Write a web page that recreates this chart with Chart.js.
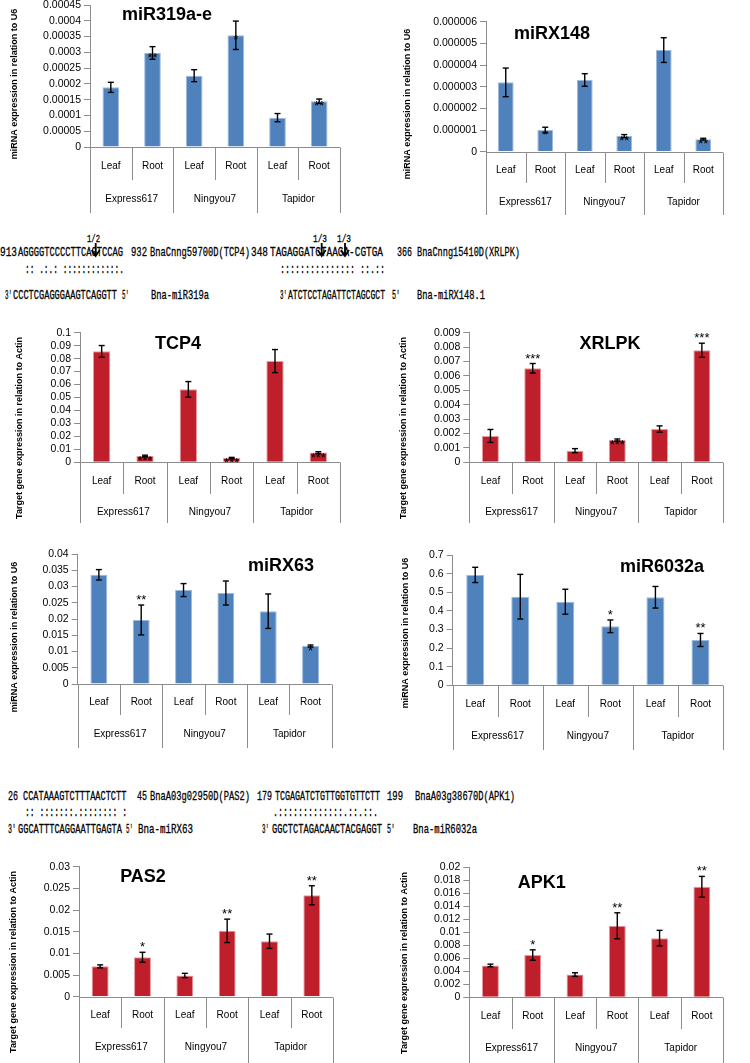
<!DOCTYPE html>
<html><head><meta charset="utf-8">
<script src="https://cdn.jsdelivr.net/npm/chart.js"></script>
<style>
body{margin:0;width:750px;height:1063px;position:relative;overflow:hidden;background:#fff}
canvas{position:absolute}
.seq{position:absolute;font-family:'Liberation Mono','Courier New',monospace;white-space:pre;transform-origin:0 50%;color:#000;-webkit-text-stroke:0.3px #000}
svg{position:absolute;left:0;top:0}
</style></head>
<body>
<svg id="arrows" width="750" height="1063"></svg>
<script>
const categories = ['Leaf','Root','Leaf','Root','Leaf','Root'];
const cultivars = ['Express617','Ningyou7','Tapidor'];

const miR319Values = [0.000189, 0.000298, 0.000226, 0.000354, 0.000093, 0.000145];
const miR319Errors = [0.000016, 0.000020, 0.000019, 0.000045, 0.000013, 0.000007];
const miR319Stars  = ['', '**', '', '*', '', '**'];

const miRX148Values = [0.0000032, 0.0000010, 0.00000331, 0.00000072, 0.00000469, 0.00000058];
const miRX148Errors = [0.00000066, 0.00000013, 0.00000029, 0.00000007, 0.00000057, 0.00000004];
const miRX148Stars  = ['', '*', '', '**', '', '**'];

const tcp4Values = [0.0856, 0.0049, 0.0563, 0.0033, 0.0781, 0.0075];
const tcp4Errors = [0.0045, 0.0006, 0.0060, 0.0005, 0.0089, 0.0007];
const tcp4Stars  = ['', '***', '', '***', '', '***'];

const xrlpkValues = [0.00183, 0.00653, 0.00081, 0.00155, 0.00231, 0.00778];
const xrlpkErrors = [0.00045, 0.00033, 0.00014, 0.00007, 0.00022, 0.00049];
const xrlpkStars  = ['', '***', '', '***', '', '***'];

const miRX63Values = [0.0336, 0.0197, 0.0289, 0.0280, 0.0224, 0.0117];
const miRX63Errors = [0.0016, 0.0046, 0.0020, 0.0037, 0.0053, 0.0003];
const miRX63Stars  = ['', '**', '', '', '', '*'];

const miR6032Values = [0.593, 0.476, 0.449, 0.317, 0.473, 0.2435];
const miR6032Errors = [0.041, 0.120, 0.067, 0.034, 0.058, 0.035];
const miR6032Stars  = ['', '', '', '*', '', '**'];

const pas2Values = [0.0070, 0.0091, 0.0049, 0.0152, 0.0128, 0.0234];
const pas2Errors = [0.00035, 0.00115, 0.0005, 0.0027, 0.00165, 0.0022];
const pas2Stars  = ['', '*', '', '**', '', '**'];

const apk1Values = [0.0049, 0.0065, 0.0035, 0.0110, 0.0091, 0.0170];
const apk1Errors = [0.0002, 0.0008, 0.00028, 0.0020, 0.0012, 0.0016];
const apk1Stars  = ['', '*', '', '**', '', '**'];

const yTitleMiR = 'miRNA expression in relation to U6';
const yTitleTarget = 'Target gene expression in relation to Actin';

const BLUE = '#4F81BD', BLUE_EDGE = '#9DB9DD';
const RED = '#BF1F2A', RED_EDGE = '#E49AA0';

function fmt(v){ return String(parseFloat(Number(v).toPrecision(6))); }

function makeChart(spec, values, errors, stars){
  const cx = spec.L < 375 ? 0 : 375;
  const cy = Math.floor(spec.T - 12);
  const W = 375;
  const H = Math.ceil(spec.longSep + 4 - cy);
  const cv = document.createElement('canvas');
  cv.width = W; cv.height = H;
  cv.style.left = cx + 'px'; cv.style.top = cy + 'px';
  cv.style.width = W + 'px'; cv.style.height = H + 'px';
  document.body.appendChild(cv);
  const yWidth = spec.L - cx;
  const decor = {
    id: 'decor',
    afterDraw(chart){
      const ctx = chart.ctx, xs = chart.scales.x, ys = chart.scales.y, a = chart.chartArea;
      const ln = (x1,y1,x2,y2)=>{ctx.beginPath();ctx.moveTo(x1,y1);ctx.lineTo(x2,y2);ctx.stroke();};
      ctx.save();
      ctx.strokeStyle = '#8c8c8c'; ctx.lineWidth = 1;
      const B = Math.round(ys.getPixelForValue(0)) + 0.5;
      ln(a.left, B, a.right, B);
      for (let i = 0; i <= categories.length; i++){
        const x = Math.round(xs.getPixelForValue(i - 0.5)) + 0.5;
        const yEnd = (i % 2 === 0 ? spec.longSep : spec.shortSep) - cy;
        ln(x, B, x, yEnd);
      }
      ctx.fillStyle = '#000';
      ctx.textAlign = 'center'; ctx.textBaseline = 'middle';
      ctx.font = '10px "Liberation Sans"';
      categories.forEach((c,i)=>ctx.fillText(c, xs.getPixelForValue(i), spec.leafY - cy));
      cultivars.forEach((g,j)=>ctx.fillText(g, xs.getPixelForValue(2*j + 0.5), spec.groupY - cy));
      // error bars
      ctx.strokeStyle = '#000'; ctx.lineWidth = 1.4;
      values.forEach((v,i)=>{
        const x = xs.getPixelForValue(i);
        const yt = ys.getPixelForValue(v + errors[i]);
        const yb = ys.getPixelForValue(v - errors[i]);
        ln(x, yt, x, yb); ln(x-3, yt, x+3, yt); ln(x-3, yb, x+3, yb);
      });
      // significance
      ctx.font = '13px "Liberation Sans"'; ctx.textBaseline = 'alphabetic'; ctx.fillStyle = '#000';
      stars.forEach((s,i)=>{
        if (!s) return;
        const x = xs.getPixelForValue(i);
        const onBar = spec.starsOnBar || errors[i] / spec.max < 0.03;
        const y = onBar ? ys.getPixelForValue(values[i]) + 9 : ys.getPixelForValue(values[i] + errors[i]) - 1;
        ctx.fillText(s, x, y);
      });
      // chart title
      ctx.fillStyle = '#000'; ctx.textBaseline = 'middle';
      ctx.font = 'bold 18px "Liberation Sans"';
      ctx.fillText(spec.title, spec.titleX - cx, spec.titleY - cy);
      // y title
      ctx.translate(spec.yTitleX - cx, spec.yTitleY - cy);
      ctx.rotate(-Math.PI/2);
      ctx.font = 'bold 9px "Liberation Sans"';
      ctx.fillText(spec.yTitle, 0, 0);
      ctx.restore();
    }
  };
  new Chart(cv, {
    type: 'bar',
    data: { labels: categories, datasets: [{ data: values, backgroundColor: spec.color, borderColor: spec.edge, borderWidth: 1, barPercentage: 0.4, categoryPercentage: 1 }] },
    options: {
      responsive: false, animation: false, devicePixelRatio: 1,
      layout: { padding: { top: spec.T - cy, right: cx + W - spec.R, bottom: cy + H - spec.B, left: 0 } },
      plugins: { legend: { display: false }, tooltip: { enabled: false }, title: { display: false } },
      scales: {
        x: { display: false, offset: true },
        y: {
          min: 0, max: spec.max,
          afterFit(s){ s.width = yWidth; },
          ticks: { stepSize: spec.step, autoSkip: false, padding: 3, color: '#000', font: { family: 'Liberation Sans', size: 10.5 }, callback: v => fmt(v) },
          grid: { display: true, drawOnChartArea: false, drawTicks: true, tickLength: 6, color: '#8c8c8c' },
          border: { display: true, color: '#8c8c8c' }
        }
      }
    },
    plugins: [decor]
  });
}

makeChart({L:90, T:5, R:340, B:147, leafY:166, shortSep:180, groupY:199, longSep:213, title:'miR319a-e', titleX:167, titleY:15, yTitle:yTitleMiR, yTitleX:15, yTitleY:84, color:BLUE, edge:BLUE_EDGE, max:0.00045, step:0.00005, starsOnBar:true}, miR319Values, miR319Errors, miR319Stars);
makeChart({L:486, T:21.7, R:723, B:151.7, leafY:170.7, shortSep:183, groupY:202, longSep:215, title:'miRX148', titleX:552, titleY:34, yTitle:yTitleMiR, yTitleX:408, yTitleY:104, color:BLUE, edge:BLUE_EDGE, max:0.000006, step:0.000001}, miRX148Values, miRX148Errors, miRX148Stars);
makeChart({L:80, T:332.7, R:340, B:462.3, leafY:481.7, shortSep:494, groupY:512.7, longSep:523, title:'TCP4', titleX:178, titleY:344, yTitle:yTitleTarget, yTitleX:20, yTitleY:428, color:RED, edge:RED_EDGE, max:0.1, step:0.01}, tcp4Values, tcp4Errors, tcp4Stars);
makeChart({L:469.3, T:332.7, R:723, B:462.3, leafY:481.7, shortSep:494, groupY:512.7, longSep:523, title:'XRLPK', titleX:610, titleY:344, yTitle:yTitleTarget, yTitleX:403.5, yTitleY:428, color:RED, edge:RED_EDGE, max:0.009, step:0.001}, xrlpkValues, xrlpkErrors, xrlpkStars);
makeChart({L:77.7, T:554, R:331.7, B:684, leafY:702.7, shortSep:715, groupY:734, longSep:748, title:'miRX63', titleX:281, titleY:566, yTitle:yTitleMiR, yTitleX:15, yTitleY:637, color:BLUE, edge:BLUE_EDGE, max:0.04, step:0.005}, miRX63Values, miRX63Errors, miRX63Stars);
makeChart({L:452.7, T:555, R:723, B:685.3, leafY:704, shortSep:717, groupY:736, longSep:750, title:'miR6032a', titleX:662, titleY:567, yTitle:yTitleMiR, yTitleX:406, yTitleY:633, color:BLUE, edge:BLUE_EDGE, max:0.7, step:0.1}, miR6032Values, miR6032Errors, miR6032Stars);
makeChart({L:79, T:866.7, R:333, B:996.7, leafY:1015, shortSep:1028, groupY:1047, longSep:1063, title:'PAS2', titleX:143, titleY:877, yTitle:yTitleTarget, yTitleX:13.5, yTitleY:962, color:RED, edge:RED_EDGE, max:0.03, step:0.005}, pas2Values, pas2Errors, pas2Stars);
makeChart({L:469.3, T:867.3, R:723, B:997.3, leafY:1016, shortSep:1029, groupY:1048, longSep:1063, title:'APK1', titleX:541.7, titleY:882.7, yTitle:yTitleTarget, yTitleX:404.5, yTitleY:963, color:RED, edge:RED_EDGE, max:0.02, step:0.002}, apk1Values, apk1Errors, apk1Stars);

// alignment text
function seq(text, x0, x1, yc, size){
  size = size || 13.5;
  const d = document.createElement('div');
  d.className = 'seq'; d.textContent = text;
  d.style.fontSize = size + 'px'; d.style.lineHeight = size + 'px'; d.style.height = size + 'px';
  d.style.left = x0 + 'px'; d.style.top = (yc - size / 2) + 'px';
  d.style.transform = 'scaleX(' + ((x1 - x0) / (text.length * size * 0.6)).toFixed(4) + ')';
  document.body.appendChild(d);
}
// TCP4 / miR319a
seq('913', 0, 17, 253); seq('AGGGGTCCCCTTCAGTCCAG', 18.3, 123.3, 253); seq('932', 131, 147, 253); seq('BnaCnng59700D(TCP4)', 150, 250, 253);
seq(':: .:.: ::::::::::::.', 25, 124, 270);
seq("3'", 5, 12, 296); seq('CCCTCGAGGGAAGTCAGGTT', 13.3, 117.3, 296); seq("5'", 122, 129, 296); seq('Bna-miR319a', 151, 209, 296);
// XRLPK / miRX148
seq('348', 251, 268, 253); seq('TAGAGGATCTAAGA-CGTGA', 270, 383, 253); seq('366', 397, 412, 253); seq('BnaCnng15410D(XRLPK)', 417, 520, 253);
seq('::::::::::::::: ::.::', 280, 385, 270);
seq('3\u2032', 280, 287, 296); seq('ATCTCCTAGATTCTAGCGCT', 288, 385, 296); seq('5\u2032', 392, 400, 296); seq('Bna-miRX148.1', 417, 485, 296);
// PAS2 / miRX63
seq('26', 8, 18, 797); seq('CCATAAAGTCTTTAACTCTT', 22.7, 126, 797); seq('45', 137, 147, 797); seq('BnaA03g02950D(PAS2)', 150, 250, 797);
seq(':: :::::::.:::::::: :', 25, 127, 813);
seq("3'", 8, 16, 830); seq('GGCATTTCAGGAATTGAGTA', 18, 122, 830); seq("5'", 126, 133, 830); seq('Bna-miRX63', 138, 193, 830);
// APK1 / miR6032a
seq('179', 257, 272, 797); seq('TCGAGATCTGTTGGTGTTCTT', 275, 380, 797); seq('199', 387, 403, 797); seq('BnaA03g38670D(APK1)', 415, 515, 797);
seq('.:::::::::::::.::.::.', 273, 378, 813);
seq("3'", 262, 269, 830); seq('GGCTCTAGACAACTACGAGGT', 272, 382, 830); seq("5'", 387, 395, 830); seq('Bna-miR6032a', 413, 477, 830);
// cleavage labels
seq('1/2', 87, 100, 239.5, 11); seq('1/3', 313, 327, 239.5, 11); seq('1/3', 337, 351, 239.5, 11);
const svg = document.getElementById('arrows');
[95.7, 321.7, 345].forEach(x=>{
  const p = document.createElementNS('http://www.w3.org/2000/svg','path');
  p.setAttribute('d', `M${x} 243 L${x} 256 M${x-4} 250 L${x} 256 L${x+4} 250`);
  p.setAttribute('stroke', '#000'); p.setAttribute('stroke-width', '1.8'); p.setAttribute('fill', 'none');
  svg.appendChild(p);
});
</script>
</body></html>
